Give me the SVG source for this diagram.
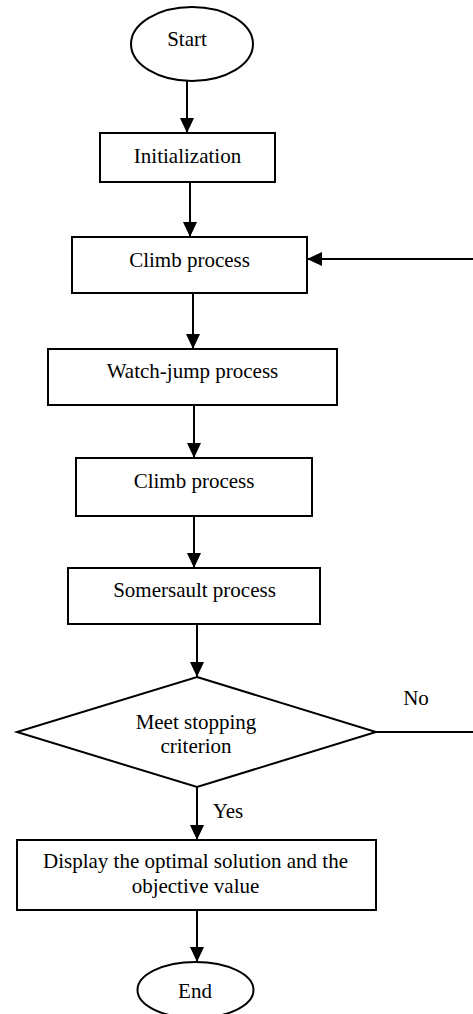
<svg xmlns="http://www.w3.org/2000/svg" width="473" height="1014" viewBox="0 0 473 1014">
<style>
.s{fill:#fff;stroke:#000;stroke-width:2}
.t{font-family:"Liberation Serif","Times New Roman",serif;font-size:21px;fill:#000;text-anchor:middle}
.c{fill:none;stroke:#000;stroke-width:2}
</style>
<defs>
<marker id="ah" viewBox="0 0 15 14" refX="15" refY="7" markerWidth="15" markerHeight="14" markerUnits="userSpaceOnUse" orient="auto">
<path d="M0,0 L15,7 L0,14 Z" fill="#000"/>
</marker>
</defs>
<rect width="473" height="1014" fill="#fff"/>
<g id="connectors">
<line class="c" x1="187" y1="81" x2="187" y2="133" marker-end="url(#ah)"/>
<line class="c" x1="190" y1="183" x2="190" y2="237" marker-end="url(#ah)"/>
<line class="c" x1="193" y1="293" x2="193" y2="349" marker-end="url(#ah)"/>
<line class="c" x1="194" y1="405" x2="194" y2="458" marker-end="url(#ah)"/>
<line class="c" x1="194" y1="516" x2="194" y2="568" marker-end="url(#ah)"/>
<line class="c" x1="197" y1="624" x2="197" y2="677" marker-end="url(#ah)"/>
<line class="c" x1="197" y1="787" x2="197" y2="840" marker-end="url(#ah)"/>
<line class="c" x1="197" y1="910" x2="197" y2="962" marker-end="url(#ah)"/>
<path class="c" d="M376,732 H476 V259 H307" marker-end="url(#ah)"/>
<text class="t" x="416" y="705">No</text>
<text class="t" x="228" y="818">Yes</text>
</g>
<g id="start">
<ellipse class="s" cx="192" cy="44" rx="61" ry="37"/>
<text class="t" x="187" y="46">Start</text>
</g>
<g id="init">
<rect class="s" x="100" y="133" width="175" height="49"/>
<text class="t" x="187.5" y="163">Initialization</text>
</g>
<g id="climb1">
<rect class="s" x="72" y="237" width="235" height="56"/>
<text class="t" x="189.5" y="267">Climb process</text>
</g>
<g id="watchjump">
<rect class="s" x="48" y="349" width="289" height="56"/>
<text class="t" x="192.5" y="378">Watch-jump process</text>
</g>
<g id="climb2">
<rect class="s" x="76" y="458" width="236" height="58"/>
<text class="t" x="194" y="488">Climb process</text>
</g>
<g id="somersault">
<rect class="s" x="68" y="568" width="252" height="56"/>
<text class="t" x="194.5" y="597">Somersault process</text>
</g>
<g id="decision">
<polygon class="s" points="197,677 376,732 197,787 17,732"/>
<text class="t" x="196" y="729">Meet stopping</text>
<text class="t" x="196" y="753">criterion</text>
</g>
<g id="display">
<rect class="s" x="17" y="840" width="359" height="70"/>
<text class="t" x="195.5" y="868">Display the optimal solution and the</text>
<text class="t" x="195.5" y="893">objective value</text>
</g>
<g id="end">
<ellipse class="s" cx="195.5" cy="990" rx="58" ry="28"/>
<text class="t" x="195" y="998">End</text>
</g>
</svg>
